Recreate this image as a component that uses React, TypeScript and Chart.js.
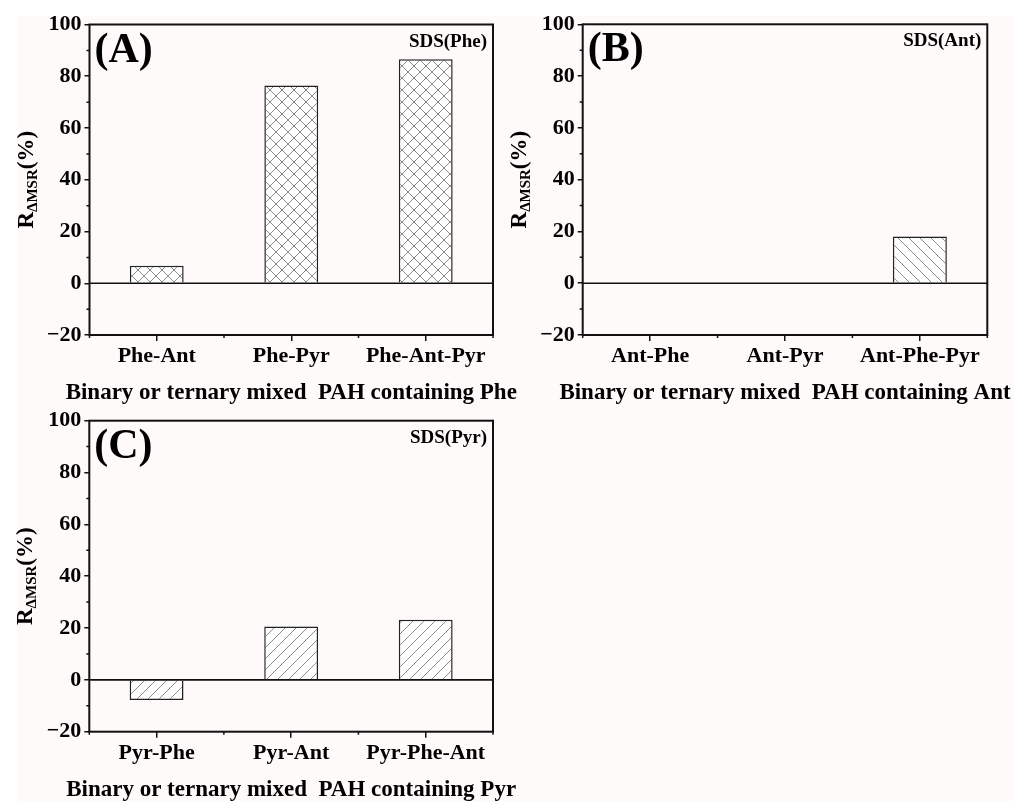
import React, { useEffect, useRef } from 'react';
import { Chart, registerables } from 'chart.js';

Chart.register(...registerables);

// ---- data ----
const pheCategories = ['Phe-Ant', 'Phe-Pyr', 'Phe-Ant-Pyr'];
const pheValues = [6.8, 76.4, 86.6];

const antCategories = ['Ant-Phe', 'Ant-Pyr', 'Ant-Phe-Pyr'];
const antValues = [0, 0, 18.0];

const pyrCategories = ['Pyr-Phe', 'Pyr-Ant', 'Pyr-Phe-Ant'];
const pyrValues = [-7.8, 20.6, 23.2];

const yMin = -20;
const yMax = 100;
const yStep = 20;

const panelLetters = ['(A)', '(B)', '(C)'];
const surfactantLabels = ['SDS(Phe)', 'SDS(Ant)', 'SDS(Pyr)'];
const xTitles = [
  'Binary or ternary mixed  PAH containing Phe',
  'Binary or ternary mixed  PAH containing Ant',
  'Binary or ternary mixed  PAH containing Pyr',
];

// ---- layout ----
const W = 1014;
const H = 801;
const FONT = "'Liberation Serif', 'Times New Roman', serif";
const Y_AXIS_W = 80;
const X_AXIS_H = 40;

type Box = { l: number; r: number; t: number; b: number };
type HatchKind = 'cross' | 'back' | 'fwd';

function makeHatch(kind: HatchKind): CanvasPattern | string {
  const s = kind === 'cross' ? 12 : 11;
  const c = document.createElement('canvas');
  c.width = s;
  c.height = s;
  const g = c.getContext('2d');
  if (!g) return '#fff';
  g.fillStyle = '#ffffff';
  g.fillRect(0, 0, s, s);
  g.strokeStyle = '#8c8c8c';
  g.lineWidth = 1;
  g.beginPath();
  for (let k = -1; k <= 1; k++) {
    if (kind === 'cross' || kind === 'back') {
      g.moveTo(k * s, 0);
      g.lineTo(k * s + s, s);
    }
    if (kind === 'cross' || kind === 'fwd') {
      g.moveTo(k * s, s);
      g.lineTo(k * s + s, 0);
    }
  }
  g.stroke();
  const p = g.createPattern(c, 'repeat');
  return p || '#fff';
}

type PanelCfg = {
  categories: string[];
  values: number[];
  hatch: HatchKind;
  box: Box;
  letter: string;
  surfactant: string;
  xTitle: string;
};

const panels: PanelCfg[] = [
  { categories: pheCategories, values: pheValues, hatch: 'cross', box: { l: 89.5, r: 493, t: 24.5, b: 335 }, letter: panelLetters[0], surfactant: surfactantLabels[0], xTitle: xTitles[0] },
  { categories: antCategories, values: antValues, hatch: 'back', box: { l: 582.7, r: 987.3, t: 24.3, b: 335 }, letter: panelLetters[1], surfactant: surfactantLabels[1], xTitle: xTitles[1] },
  { categories: pyrCategories, values: pyrValues, hatch: 'fwd', box: { l: 89.3, r: 493, t: 420.7, b: 731.7 }, letter: panelLetters[2], surfactant: surfactantLabels[2], xTitle: xTitles[2] },
];

function decorPlugin(cfg: PanelCfg) {
  return {
    id: 'panelDecor',
    afterDatasetsDraw(chart: any) {
      const { ctx, chartArea: a, scales } = chart;
      const ys = scales.y;
      const xs = scales.x;
      ctx.save();
      ctx.strokeStyle = '#111';
      ctx.fillStyle = '#000';

      // zero line
      const y0 = ys.getPixelForValue(0);
      ctx.lineWidth = 1.6;
      ctx.beginPath();
      ctx.moveTo(a.left, y0);
      ctx.lineTo(a.right, y0);
      ctx.stroke();

      // plot frame
      ctx.lineWidth = 2;
      ctx.strokeRect(a.left, a.top, a.right - a.left, a.bottom - a.top);

      // minor ticks
      ctx.lineWidth = 1.5;
      ctx.beginPath();
      for (let v = yMin + yStep / 2; v < yMax; v += yStep) {
        const py = ys.getPixelForValue(v);
        ctx.moveTo(a.left - 3, py);
        ctx.lineTo(a.left, py);
      }
      for (let i = 0; i <= cfg.categories.length; i++) {
        const px = xs.getPixelForValue(i - 0.5);
        ctx.moveTo(px, a.bottom);
        ctx.lineTo(px, a.bottom + 3);
      }
      ctx.stroke();

      // panel letter and surfactant tag
      ctx.textBaseline = 'alphabetic';
      ctx.textAlign = 'left';
      ctx.font = `bold 42px ${FONT}`;
      ctx.fillText(cfg.letter, a.left + 5, a.top + 37);
      ctx.textAlign = 'right';
      ctx.font = `bold 19px ${FONT}`;
      ctx.fillText(cfg.surfactant, a.right - 6, a.top + 22);

      // x title
      ctx.textAlign = 'center';
      ctx.font = `bold 23px ${FONT}`;
      ctx.fillText(cfg.xTitle, (a.left + a.right) / 2, a.bottom + 64);

      // y title: R with subscript ΔMSR, then (%)
      const main = `bold 23px ${FONT}`;
      const sub = `bold 15px ${FONT}`;
      ctx.font = main;
      const wR = ctx.measureText('R').width;
      const wP = ctx.measureText('(%)').width;
      ctx.font = sub;
      const wS = ctx.measureText('ΔMSR').width;
      const total = wR + wS + wP;
      ctx.translate(a.left - 57, (a.top + a.bottom) / 2);
      ctx.rotate(-Math.PI / 2);
      ctx.textAlign = 'left';
      let x = -total / 2;
      ctx.font = main;
      ctx.fillText('R', x, 0);
      x += wR;
      ctx.font = sub;
      ctx.fillText('ΔMSR', x, 4);
      x += wS;
      ctx.font = main;
      ctx.fillText('(%)', x, 0);
      ctx.restore();
    },
  };
}

function Panel({ cfg }: { cfg: PanelCfg }) {
  const ref = useRef<HTMLCanvasElement>(null);
  useEffect(() => {
    if (!ref.current) return;
    const b = cfg.box;
    const chart = new Chart(ref.current, {
      type: 'bar',
      data: {
        labels: cfg.categories,
        datasets: [
          {
            data: cfg.values,
            backgroundColor: makeHatch(cfg.hatch) as any,
            borderColor: '#222',
            borderWidth: 1.5,
            borderSkipped: 'start',
            barPercentage: 0.4,
            categoryPercentage: 1,
          },
        ],
      },
      options: {
        responsive: false,
        animation: false,
        devicePixelRatio: 1,
        layout: {
          padding: {
            left: b.l - Y_AXIS_W,
            right: W - b.r,
            top: b.t,
            bottom: H - b.b - X_AXIS_H,
          },
        },
        plugins: {
          legend: { display: false },
          tooltip: { enabled: false },
        },
        scales: {
          x: {
            type: 'category',
            offset: true,
            grid: {
              offset: false,
              drawOnChartArea: false,
              drawTicks: true,
              tickLength: 6,
              color: '#111',
              lineWidth: 1.5,
            },
            border: { display: false },
            ticks: {
              color: '#000',
              font: { family: FONT, size: 22, weight: 'bold' },
              padding: 2,
              maxRotation: 0,
              autoSkip: false,
            },
            afterFit: (s: any) => {
              s.height = X_AXIS_H;
            },
          },
          y: {
            min: yMin,
            max: yMax,
            grid: {
              drawOnChartArea: false,
              drawTicks: true,
              tickLength: 5,
              color: '#111',
              lineWidth: 1.5,
            },
            border: { display: false },
            ticks: {
              stepSize: yStep,
              color: '#000',
              font: { family: FONT, size: 22, weight: 'bold' },
              padding: 3,
              callback: (v: any) => (Number(v) < 0 ? '\u2212' + Math.abs(Number(v)) : String(v)),
            },
            afterFit: (s: any) => {
              s.width = Y_AXIS_W;
            },
          },
        },
      },
      plugins: [decorPlugin(cfg)],
    });
    return () => chart.destroy();
  }, [cfg]);
  return (
    <canvas
      ref={ref}
      width={W}
      height={H}
      style={{ position: 'absolute', left: 0, top: 0, width: W, height: H }}
    />
  );
}

export default function App() {
  return (
    <div style={{ position: 'absolute', left: 0, top: 0, width: W, height: H, background: '#ffffff', overflow: 'hidden' }}>
      <div style={{ position: 'absolute', left: 17, top: 16, right: 0, bottom: 0, background: '#fdfaf9' }} />
      {panels.map((p, i) => (
        <Panel key={i} cfg={p} />
      ))}
    </div>
  );
}
